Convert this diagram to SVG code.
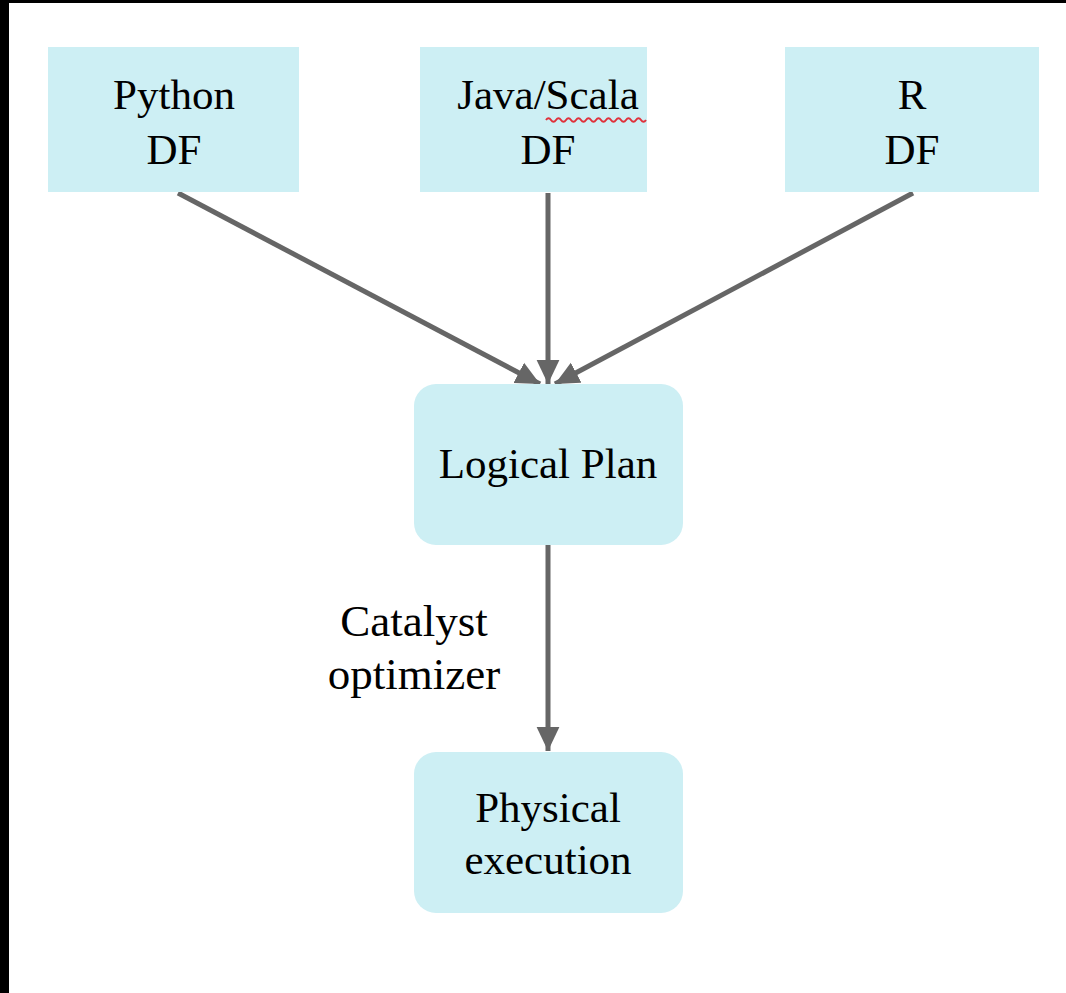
<svg xmlns="http://www.w3.org/2000/svg" width="1066" height="993" viewBox="0 0 1066 993">
  <style>
    .box { fill: #cdeff4; }
    .lbl { font-family: "Liberation Serif", "Times New Roman", serif; font-size: 43px; fill: #000; text-anchor: middle; }
    .conn { stroke: #666666; stroke-width: 5; fill: none; }
  </style>
  <defs>
    <marker id="arrow" markerUnits="userSpaceOnUse" markerWidth="24" markerHeight="24" viewBox="0 0 20 20" refX="20" refY="10" orient="auto">
      <path d="M0,0.5 L20,10 L0,19.5 Z" fill="#666666"/>
    </marker>
  </defs>
  <rect x="0" y="0" width="1066" height="993" fill="#ffffff"/>
  <rect x="0" y="0" width="9" height="993" fill="#000000"/>
  <rect x="0" y="0" width="1066" height="3" fill="#000000"/>

  <g id="connectors">
    <line class="conn" x1="178" y1="193" x2="540" y2="384" marker-end="url(#arrow)"/>
    <line class="conn" x1="548" y1="193" x2="548" y2="384" marker-end="url(#arrow)"/>
    <line class="conn" x1="913" y1="193" x2="555" y2="384" marker-end="url(#arrow)"/>
    <line class="conn" x1="548" y1="545" x2="548" y2="751" marker-end="url(#arrow)"/>
  </g>

  <g id="python-df">
    <rect class="box" x="48" y="47" width="251" height="145"/>
    <text class="lbl" x="174" y="109">Python</text>
    <text class="lbl" x="174" y="164">DF</text>
  </g>
  <g id="java-scala-df">
    <rect class="box" x="420" y="47" width="227" height="145"/>
    <text class="lbl" x="548" y="109">Java/Scala</text>
    <path d="M546,120 q2.5,-3.5 5,0 t5,0 t5,0 t5,0 t5,0 t5,0 t5,0 t5,0 t5,0 t5,0 t5,0 t5,0 t5,0 t5,0 t5,0 t5,0 t5,0 t5,0 t5,0 t5,0" stroke="#e0303a" stroke-width="2" fill="none"/>
    <text class="lbl" x="548" y="164">DF</text>
  </g>
  <g id="r-df">
    <rect class="box" x="785" y="47" width="254" height="145"/>
    <text class="lbl" x="912" y="109">R</text>
    <text class="lbl" x="912" y="164">DF</text>
  </g>
  <g id="logical-plan">
    <rect class="box" x="414" y="384" width="269" height="161" rx="22" ry="22"/>
    <text class="lbl" x="548" y="478">Logical Plan</text>
  </g>
  <g id="catalyst-label">
    <text class="lbl" x="414" y="636" style="font-size:45px">Catalyst</text>
    <text class="lbl" x="414" y="689" style="font-size:45px">optimizer</text>
  </g>
  <g id="physical-execution">
    <rect class="box" x="414" y="752" width="269" height="161" rx="22" ry="22"/>
    <text class="lbl" x="548" y="822">Physical</text>
    <text class="lbl" x="548" y="874">execution</text>
  </g>
</svg>
